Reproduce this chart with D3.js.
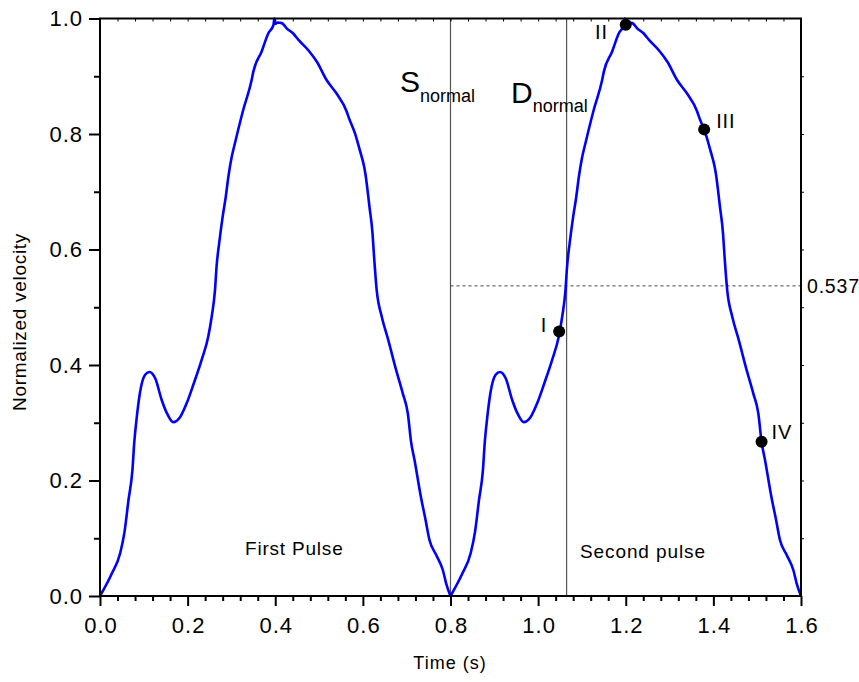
<!DOCTYPE html>
<html>
<head>
<meta charset="utf-8">
<script src="https://cdn.jsdelivr.net/npm/d3@7"></script>
<style>
  body { margin: 0; background: #fff; }
  svg text { font-family: Arial, "Liberation Sans", sans-serif; fill: #000; }
</style>
</head>
<body>
<div id="chart"></div>
<script>
// ---------- DATA ----------
// one cardiac pulse (time s, normalized velocity)
const pulseTime = [0, 0.027, 0.046, 0.056, 0.065, 0.074, 0.078, 0.084, 0.091, 0.103,
  0.113, 0.126, 0.141, 0.155, 0.167, 0.183, 0.198, 0.214, 0.232, 0.247,
  0.255, 0.2625, 0.266, 0.272, 0.280, 0.287, 0.293, 0.300, 0.308, 0.327,
  0.346, 0.350, 0.369, 0.384, 0.396, 0.398, 0.400, 0.405, 0.415, 0.426,
  0.441, 0.453, 0.4755, 0.495, 0.5175, 0.540, 0.563, 0.567, 0.582, 0.593,
  0.603, 0.606, 0.615, 0.622, 0.6255, 0.6315, 0.643, 0.658, 0.676, 0.691,
  0.7026, 0.710, 0.718, 0.7316, 0.743, 0.752, 0.7674, 0.7825, 0.790, 0.800];
const pulseVelocity = [0, 0.039, 0.074, 0.111, 0.166, 0.218, 0.264, 0.310, 0.351, 0.383,
  0.388, 0.377, 0.339, 0.313, 0.301, 0.310, 0.334, 0.368, 0.409, 0.449,
  0.484, 0.530, 0.570, 0.611, 0.657, 0.691, 0.726, 0.758, 0.784, 0.842,
  0.893, 0.908, 0.943, 0.974, 0.989, 1.000, 0.991, 0.993, 0.992, 0.983,
  0.974, 0.963, 0.945, 0.925, 0.893, 0.870, 0.839, 0.830, 0.801, 0.772,
  0.743, 0.730, 0.674, 0.628, 0.588, 0.530, 0.484, 0.443, 0.391, 0.351,
  0.316, 0.267, 0.235, 0.175, 0.132, 0.097, 0.071, 0.045, 0.022, 0];
const pulsePeriod = 0.8;   // second pulse repeats the first one

const markerNames = ['I', 'II', 'III', 'IV'];
const markerTime = [1.048, 1.200, 1.379, 1.510];
const markerVelocity = [0.458, 0.989, 0.808, 0.267];

const xTicks = [0, 0.2, 0.4, 0.6, 0.8, 1.0, 1.2, 1.4, 1.6];
const yTicks = [0, 0.2, 0.4, 0.6, 0.8, 1.0];
const sNormalTime = 0.8;
const dNormalTime = 1.065;
const thresholdValue = 0.537;

// ---------- SVG ----------
const width = 859, height = 682;
const svg = d3.select('#chart').append('svg')
  .attr('width', width).attr('height', height);

const x = d3.scaleLinear().domain([0, 1.6]).range([100, 801]);
const y = d3.scaleLinear().domain([0, 1]).range([596, 18.5]);

const firstPulse = pulseTime.map((t, i) => ({ t: t, v: pulseVelocity[i] }));
const secondPulse = pulseTime.map((t, i) => ({ t: t + pulsePeriod, v: pulseVelocity[i] }));

// reference lines
svg.append('line')
  .attr('x1', x(sNormalTime)).attr('x2', x(sNormalTime))
  .attr('y1', y(1)).attr('y2', y(0))
  .attr('stroke', '#555').attr('stroke-width', 1.2);
svg.append('line')
  .attr('x1', x(dNormalTime)).attr('x2', x(dNormalTime))
  .attr('y1', y(1)).attr('y2', y(0))
  .attr('stroke', '#555').attr('stroke-width', 1.2);
svg.append('line')
  .attr('x1', x(sNormalTime)).attr('x2', x(1.6))
  .attr('y1', y(thresholdValue)).attr('y2', y(thresholdValue))
  .attr('stroke', '#444').attr('stroke-width', 1)
  .attr('stroke-dasharray', '3,3');

// pulses
const line = d3.line()
  .x(d => x(d.t))
  .y(d => y(d.v))
  .curve(d3.curveMonotoneX);

[firstPulse, secondPulse].forEach(p => {
  svg.append('path')
    .attr('d', line(p))
    .attr('fill', 'none')
    .attr('stroke', '#0000ff')
    .attr('stroke-width', 2.6)
    .attr('stroke-linejoin', 'round');
});

// ---------- AXES ----------
const fmt = d3.format('.1f');
const minorX = d3.range(0, 1.6001, 0.04).filter(v => Math.abs(v / 0.2 - Math.round(v / 0.2)) > 1e-6);
const minorY = d3.range(0.1, 1, 0.2);

function styleAxis(g) {
  g.select('.domain').remove();
  g.selectAll('line').attr('stroke', '#000').attr('stroke-width', 2);
}

// bottom
svg.append('g').attr('transform', `translate(0,${y(0)})`)
  .call(d3.axisBottom(x).tickValues(minorX).tickSize(5).tickFormat(''))
  .call(styleAxis);
svg.append('g').attr('transform', `translate(0,${y(0)})`)
  .call(d3.axisBottom(x).tickValues(xTicks).tickSize(10).tickPadding(11).tickFormat(fmt))
  .call(styleAxis)
  .selectAll('text').style('font-size', '22px').attr('dx', '0.5px').style('letter-spacing', '1px');

// left
svg.append('g').attr('transform', `translate(${x(0)},0)`)
  .call(d3.axisLeft(y).tickValues(minorY).tickSize(6).tickFormat(''))
  .call(styleAxis);
svg.append('g').attr('transform', `translate(${x(0)},0)`)
  .call(d3.axisLeft(y).tickValues(yTicks).tickSize(11).tickPadding(6).tickFormat(fmt))
  .call(styleAxis)
  .selectAll('text').style('font-size', '22px').style('letter-spacing', '1px');

// top (inward ticks, no labels)
svg.append('g').attr('transform', `translate(0,${y(1)})`)
  .call(d3.axisTop(x).tickValues(minorX.concat(xTicks)).tickSize(-3).tickFormat(''))
  .call(styleAxis)
  .selectAll('line').attr('stroke-width', 1);

// right (small ticks, no labels)
svg.append('g').attr('transform', `translate(${x(1.6)},0)`)
  .call(d3.axisRight(y).tickValues(d3.range(0.1, 1, 0.1)).tickSize(3).tickFormat(''))
  .call(styleAxis)
  .selectAll('line').attr('stroke-width', 1);

// frame
svg.append('rect')
  .attr('x', x(0)).attr('y', y(1))
  .attr('width', x(1.6) - x(0)).attr('height', y(0) - y(1))
  .attr('fill', 'none').attr('stroke', '#000').attr('stroke-width', 2);

// markers
markerTime.forEach((t, i) => {
  svg.append('circle')
    .attr('cx', x(t)).attr('cy', y(markerVelocity[i]))
    .attr('r', 6).attr('fill', '#000');
});
const markerDx = [-12, -18, 12, 10];
const markerDy = [0, 14, -1, -3];
markerNames.forEach((n, i) => {
  svg.append('text')
    .attr('x', x(markerTime[i]) + markerDx[i])
    .attr('y', y(markerVelocity[i]) + markerDy[i])
    .attr('text-anchor', i < 2 ? 'end' : 'start')
    .style('font-size', '20px')
    .style('letter-spacing', '0.8px')
    .text(n);
});

// ---------- TEXTS ----------
svg.append('text')
  .attr('x', x(1.6) + 6).attr('y', y(thresholdValue) + 7)
  .style('font-size', '19.5px')
  .style('letter-spacing', '0.8px')
  .text(thresholdValue);

const sLabel = svg.append('text').attr('x', 400).attr('y', 92).style('font-size', '30px');
sLabel.append('tspan').text('S');
sLabel.append('tspan').attr('dy', 10).style('font-size', '18px').text('normal');

const dLabel = svg.append('text').attr('x', 511).attr('y', 103).style('font-size', '30px');
dLabel.append('tspan').text('D');
dLabel.append('tspan').attr('dy', 9).style('font-size', '18px').text('normal');

svg.append('text').attr('x', 245).attr('y', 555)
  .style('font-size', '19px').style('letter-spacing', '0.8px').text('First Pulse');
svg.append('text').attr('x', 580).attr('y', 558)
  .style('font-size', '19px').style('letter-spacing', '0.9px').text('Second pulse');

svg.append('text')
  .attr('x', 450).attr('y', 669)
  .attr('text-anchor', 'middle')
  .style('font-size', '18px')
  .style('letter-spacing', '1px')
  .text('Time (s)');

svg.append('text')
  .attr('transform', `translate(26,322) rotate(-90)`)
  .attr('text-anchor', 'middle')
  .style('font-size', '19px')
  .style('letter-spacing', '0.7px')
  .text('Normalized velocity');
</script>
</body>
</html>
